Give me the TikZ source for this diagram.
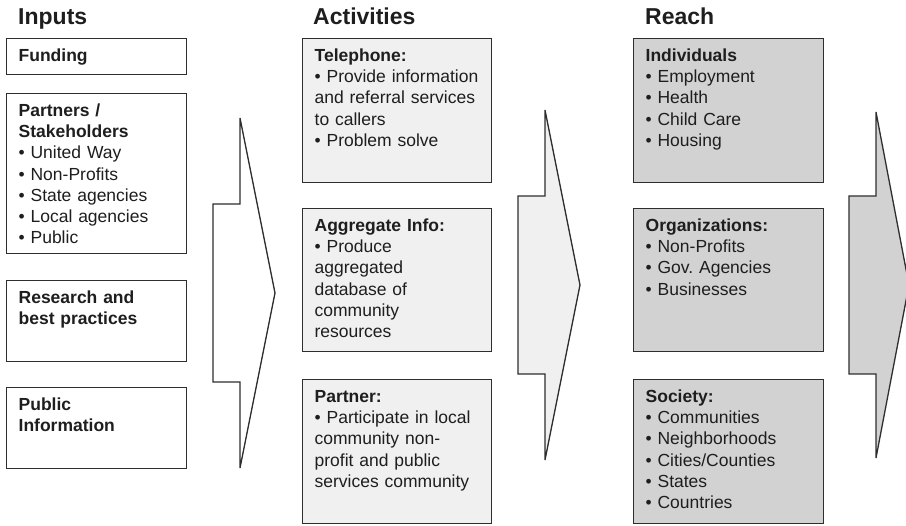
\documentclass[tikz,border=0pt]{standalone}
\usepackage{fontspec}
\setmainfont{Liberation Sans}
\frenchspacing
\definecolor{ink}{HTML}{1E1E1E}
\definecolor{edge}{HTML}{2E2E2E}
\definecolor{actfill}{HTML}{F0F0F0}
\definecolor{reachfill}{HTML}{D2D2D2}
\tikzset{%
  pics/chevron/.style={code={%
      \tikzset{chevron/.cd,#1}%
      \pgfkeysgetvalue{/tikz/chevron/h}\chH
      \pgfkeysgetvalue{/tikz/chevron/s}\chS
      \pgfkeysgetvalue{/tikz/chevron/d}\chD
      \pgfkeysgetvalue{/tikz/chevron/n}\chN
      \pgfkeysgetvalue{/tikz/chevron/paint}\chPaint
      % top point, right tip, bottom point, then the notch on the left
      \draw[chevron/body,fill=\chPaint]
        (0,-\chH) -- (\chD,0) -- (0,\chH) -- (0,\chS) -- (-\chN,\chS)
        -- (-\chN,-\chS) -- (0,-\chS) -- cycle;
    }
  },
  chevron/.cd,
  h/.initial=175,
  s/.initial=89,
  d/.initial=35,
  n/.initial=27,
  paint/.initial=white,
  body/.style={draw=edge,line width=1.3pt,line join=miter},
}
\tikzset{%
  col title/.style={anchor=base west, inner sep=0pt, text=ink,
    font=\fontsize{23}{27}\selectfont\bfseries},
  lm box/.style={draw=edge, line width=1.3pt, anchor=north west, align=left,
    inner xsep=12pt, inner ysep=0pt, text height=22.5pt, text=ink,
    font=\fontsize{17.5}{21.3}\selectfont},
  input/.style={lm box, text width=156pt, fill=white},
  activity/.style={lm box, text width=165pt, text depth=121.5pt, fill=actfill},
  reach/.style={lm box, text width=166pt, text depth=121.5pt, fill=reachfill},
}
\newcommand{\LayoutLM}{
  \pgfmathsetmacro{\xin}{6}% left edge of inputs
  \pgfmathsetmacro{\xact}{302}% left edge of activities
  \pgfmathsetmacro{\xrch}{633}% left edge of reach
}

\begin{document}
\begin{tikzpicture}[x=1pt,y=-1pt]
  \useasboundingbox (0,0) rectangle (906,526);
  \LayoutLM% column edges
  % arrows between the columns
  \pic at (240,293) {chevron};
  \pic at (545,285) {chevron={paint=actfill}};
  \pic at (876,285) {chevron={paint=reachfill,h=173,d=33}};
  % titles
  \node[col title] (tIn) at (18,25) {Inputs};
  \node[col title] (tAct) at (313,25) {Activities};
  \node[col title] (tRch) at (645,25) {Reach};
  % inputs
  \node[input, text depth=13.5pt] (fund) at (\xin,38) {\textbf{Funding}};
  \node[input, text depth=137.5pt] (partners) at (\xin,93)
    {\textbf{Partners /}\\\textbf{Stakeholders}\\• United Way\\• Non-Profits\\
     • State agencies\\• Local agencies\\• Public};
  \node[input, text depth=58.5pt] (research) at (\xin,280)
    {\textbf{Research and}\\\textbf{best practices}};
  \node[input, text depth=58.5pt] (pubinfo) at (\xin,387)
    {\textbf{Public}\\\textbf{Information}};
  % activities
  \node[activity] (phone) at (\xact,38)
    {\textbf{Telephone:}\\• Provide information\\and referral services\\
     to callers\\• Problem solve};
  \node[activity, text depth=120.5pt] (aggr) at (\xact,208)
    {\textbf{Aggregate Info:}\\• Produce\\aggregated\\database of\\
     community\\resources};
  \node[activity] (partner) at (\xact,379)
    {\textbf{Partner:}\\• Participate in local\\community non-\\
     profit and public\\services community};
  % reach
  \node[reach] (indiv) at (\xrch,38)
    {\textbf{Individuals}\\• Employment\\• Health\\• Child Care\\• Housing};
  \node[reach, text depth=120.5pt] (orgs) at (\xrch,208)
    {\textbf{Organizations:}\\• Non-Profits\\• Gov. Agencies\\• Businesses};
  \node[reach] (society) at (\xrch,379)
    {\textbf{Society:}\\• Communities\\• Neighborhoods\\• Cities/Counties\\
     • States\\• Countries};
\end{tikzpicture}
\end{document}
